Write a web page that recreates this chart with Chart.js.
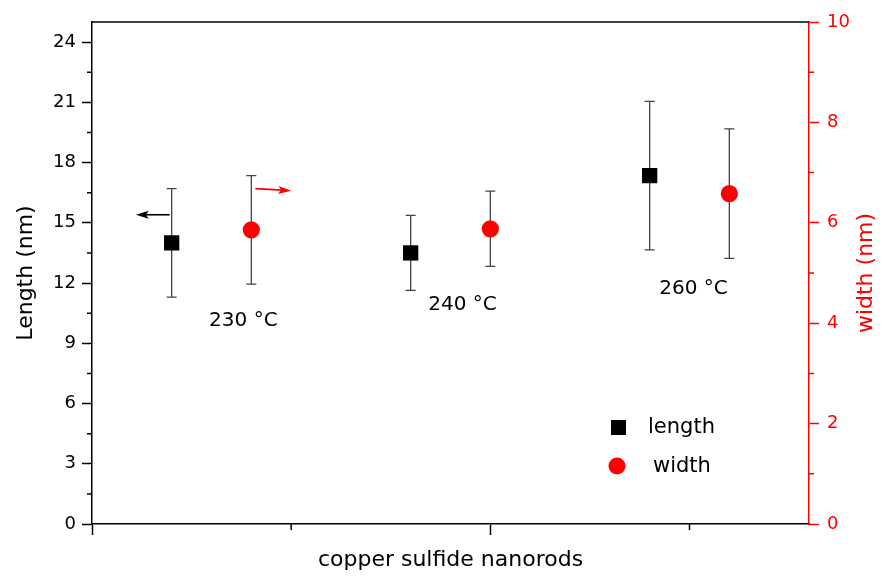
<!DOCTYPE html>
<html lang="en">
<head>
    <meta charset="UTF-8">
    <title>Copper sulfide nanorods</title>
    <script src="https://cdn.jsdelivr.net/npm/chart.js"></script>
    <style>
        body {
            margin: 0;
            background-color: #fff;
        }
        canvas {
            display: block;
        }
    </style>
</head>
<body>

    <canvas id="rodChart" width="883" height="576"></canvas>

    <script>
        // values
        const temps = ['230 °C', '240 °C', '260 °C'];
        const lengthX = [0.4, 1.6, 2.8];
        const widthX = [0.8, 2.0, 3.2];
        const lengthMean = [14.0, 13.5, 17.35];
        const lengthErr = [2.7, 1.87, 3.7];
        const widthMean = [5.86, 5.88, 6.58];
        const widthErr = [1.08, 0.75, 1.29];
        const lengthTicks = [0, 3, 6, 9, 12, 15, 18, 21, 24];
        const widthTicks = [0, 2, 4, 6, 8, 10];
        const xTicks = [0, 2];

        // where the temperature notes sit (x units, length units)
        const notePos = [[0.76, 10.1], [1.86, 10.9], [3.02, 11.7]];

        Chart.defaults.font.family = 'DejaVu Sans';
        Chart.defaults.color = '#000';

        function tickMarks(ctx, scale, values, len, color, side) {
            ctx.save();
            ctx.strokeStyle = color;
            ctx.lineWidth = 1.5;
            ctx.beginPath();
            values.forEach(function (v) {
                if (side === 'bottom') {
                    const px = scale.getPixelForValue(v);
                    ctx.moveTo(px, scale.top);
                    ctx.lineTo(px, scale.top + len);
                } else {
                    const py = scale.getPixelForValue(v);
                    const x0 = side === 'left' ? scale.right : scale.left;
                    ctx.moveTo(x0, py);
                    ctx.lineTo(side === 'left' ? x0 - len : x0 + len, py);
                }
            });
            ctx.stroke();
            ctx.restore();
        }

        function arrow(ctx, x1, y1, x2, y2, color) {
            const ang = Math.atan2(y2 - y1, x2 - x1);
            const c = Math.cos(ang), s = Math.sin(ang);
            ctx.save();
            ctx.strokeStyle = color;
            ctx.fillStyle = color;
            ctx.lineWidth = 1.6;
            ctx.beginPath();
            ctx.moveTo(x1, y1);
            ctx.lineTo(x2 - 9 * c, y2 - 9 * s);
            ctx.stroke();
            ctx.beginPath();
            ctx.moveTo(x2, y2);
            ctx.lineTo(x2 - 13 * c + 4 * s, y2 - 13 * s - 4 * c);
            ctx.lineTo(x2 - 10 * c, y2 - 10 * s);
            ctx.lineTo(x2 - 13 * c - 4 * s, y2 - 13 * s + 4 * c);
            ctx.closePath();
            ctx.fill();
            ctx.restore();
        }

        const errorBars = {
            id: 'errorBars',
            beforeDatasetsDraw(chart) {
                const ctx = chart.ctx;
                const x = chart.scales.x;
                ctx.save();
                ctx.strokeStyle = '#444';
                ctx.lineWidth = 1.3;
                chart.data.datasets.forEach(function (ds) {
                    const y = chart.scales[ds.yAxisID];
                    ds.data.forEach(function (p, i) {
                        const px = x.getPixelForValue(p.x);
                        const top = y.getPixelForValue(p.y + ds.errors[i]);
                        const bot = y.getPixelForValue(p.y - ds.errors[i]);
                        ctx.beginPath();
                        ctx.moveTo(px, top);
                        ctx.lineTo(px, bot);
                        ctx.moveTo(px - 5, top);
                        ctx.lineTo(px + 5, top);
                        ctx.moveTo(px - 5, bot);
                        ctx.lineTo(px + 5, bot);
                        ctx.stroke();
                    });
                });
                ctx.restore();
            },
            afterDraw(chart) {
                const ctx = chart.ctx;
                const a = chart.chartArea;
                const x = chart.scales.x, y = chart.scales.y, y1 = chart.scales.y1;

                // top frame
                ctx.save();
                ctx.strokeStyle = '#000';
                ctx.lineWidth = 1.5;
                ctx.beginPath();
                ctx.moveTo(a.left, a.top);
                ctx.lineTo(a.right, a.top);
                ctx.stroke();
                ctx.restore();

                // minor ticks
                tickMarks(ctx, y, lengthTicks.map(v => v + 1.5).filter(v => v < 25), 5, '#000', 'left');
                tickMarks(ctx, y1, [1, 3, 5, 7, 9], 5, '#f00', 'right');
                tickMarks(ctx, x, [1, 3], 6, '#000', 'bottom');

                // right axis title, reading bottom to top like the left one
                ctx.save();
                ctx.translate(866, (a.top + a.bottom) / 2);
                ctx.rotate(-Math.PI / 2);
                ctx.fillStyle = '#f00';
                ctx.font = '22px "DejaVu Sans"';
                ctx.textAlign = 'center';
                ctx.textBaseline = 'middle';
                ctx.fillText('width (nm)', 0, 0);
                ctx.restore();

                // temperature notes
                ctx.save();
                ctx.fillStyle = '#000';
                ctx.font = '20px "DejaVu Sans"';
                ctx.textAlign = 'center';
                ctx.textBaseline = 'middle';
                temps.forEach(function (t, i) {
                    ctx.fillText(t, x.getPixelForValue(notePos[i][0]), y.getPixelForValue(notePos[i][1]));
                });
                ctx.restore();

                // axis arrows
                arrow(ctx, x.getPixelForValue(0.39), y.getPixelForValue(15.4),
                      x.getPixelForValue(0.22), y.getPixelForValue(15.4), '#000');
                arrow(ctx, x.getPixelForValue(0.82), y1.getPixelForValue(6.68),
                      x.getPixelForValue(1.0), y1.getPixelForValue(6.64), '#f00');

                // legend
                ctx.save();
                ctx.font = '21px "DejaVu Sans"';
                ctx.textBaseline = 'middle';
                ctx.textAlign = 'left';
                ctx.fillStyle = '#000';
                ctx.fillRect(611, 420, 15, 15);
                ctx.fillText('length', 648, 428);
                ctx.fillStyle = '#f00';
                ctx.beginPath();
                ctx.arc(617, 466, 8.5, 0, Math.PI * 2);
                ctx.fill();
                ctx.fillStyle = '#000';
                ctx.fillText('width', 653, 467);
                ctx.restore();
            }
        };

        document.addEventListener('DOMContentLoaded', function () {
            const ctx = document.getElementById('rodChart').getContext('2d');
            const rodChart = new Chart(ctx, {
                type: 'scatter',
                data: {
                    datasets: [{
                        label: 'length',
                        data: lengthX.map((x, i) => ({ x: x, y: lengthMean[i] })),
                        errors: lengthErr,
                        yAxisID: 'y',
                        pointStyle: 'rect',
                        pointRadius: 10.8,
                        backgroundColor: '#000',
                        borderColor: '#000',
                        borderWidth: 0
                    }, {
                        label: 'width',
                        data: widthX.map((x, i) => ({ x: x, y: widthMean[i] })),
                        errors: widthErr,
                        yAxisID: 'y1',
                        pointStyle: 'circle',
                        pointRadius: 8.6,
                        backgroundColor: '#f00',
                        borderColor: '#f00',
                        borderWidth: 0
                    }]
                },
                options: {
                    responsive: false,
                    animation: false,
                    layout: {
                        padding: { left: 9, right: 0, top: 22, bottom: 0 }
                    },
                    plugins: {
                        legend: { display: false },
                        tooltip: { enabled: false }
                    },
                    scales: {
                        x: {
                            type: 'linear',
                            min: 0,
                            max: 3.6,
                            afterBuildTicks: function (s) { s.ticks = xTicks.map(v => ({ value: v })); },
                            afterFit: function (s) { s.height = 52; },
                            ticks: { display: false },
                            grid: { drawOnChartArea: false, tickLength: 11, tickColor: '#000', tickWidth: 1.5 },
                            border: { color: '#000', width: 1.5 },
                            title: {
                                display: true,
                                text: 'copper sulfide nanorods',
                                font: { size: 22 },
                                padding: { top: 4, bottom: 3 }
                            }
                        },
                        y: {
                            position: 'left',
                            min: 0,
                            max: 25,
                            afterBuildTicks: function (s) { s.ticks = lengthTicks.map(v => ({ value: v })); },
                            afterFit: function (s) { s.width = 83; },
                            ticks: { font: { size: 18 }, padding: 6, color: '#000' },
                            grid: { drawOnChartArea: false, tickLength: 10, tickColor: '#000', tickWidth: 1.5 },
                            border: { color: '#000', width: 1.5 },
                            title: {
                                display: true,
                                text: 'Length (nm)',
                                font: { size: 22 },
                                padding: { top: 4, bottom: 4 }
                            }
                        },
                        y1: {
                            position: 'right',
                            min: 0,
                            max: 10,
                            afterBuildTicks: function (s) { s.ticks = widthTicks.map(v => ({ value: v })); },
                            afterFit: function (s) { s.width = 74; },
                            ticks: { font: { size: 18 }, padding: 8, color: '#f00' },
                            grid: { drawOnChartArea: false, tickLength: 10, tickColor: '#f00', tickWidth: 1.5 },
                            border: { color: '#f00', width: 1.5 }
                        }
                    }
                },
                plugins: [errorBars]
            });
        });
    </script>

</body>
</html>
